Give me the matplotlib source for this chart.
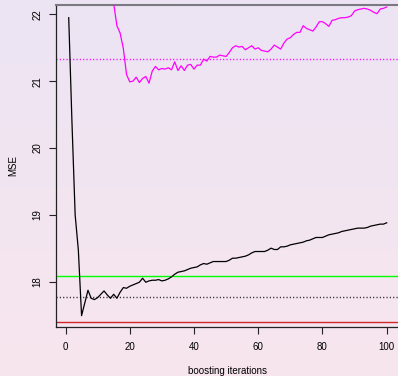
import numpy as np
import matplotlib
matplotlib.use("Agg")
import matplotlib.pyplot as plt
from matplotlib.colors import LinearSegmentedColormap

plt.rcParams['font.family'] = ['Liberation Sans', 'DejaVu Sans']

# Test-set MSE per boosting iteration
iter_black = list(range(1, 101))
mse_black = [
    21.95, 20.40, 19.00, 18.47, 17.49, 17.68, 17.87, 17.75, 17.73, 17.76,
    17.81, 17.86, 17.80, 17.75, 17.81, 17.75, 17.84, 17.91, 17.90, 17.93,
    17.95, 17.97, 17.99, 18.05, 17.99, 18.01, 18.02, 18.02, 18.03, 18.01,
    18.02, 18.04, 18.07, 18.11, 18.14, 18.15, 18.16, 18.18, 18.20, 18.21,
    18.22, 18.25, 18.27, 18.26, 18.28, 18.30, 18.30, 18.30, 18.30, 18.30,
    18.32, 18.35, 18.35, 18.36, 18.37, 18.38, 18.40, 18.43, 18.45, 18.45,
    18.45, 18.45, 18.47, 18.50, 18.48, 18.48, 18.52, 18.52, 18.53, 18.55,
    18.56, 18.57, 18.58, 18.59, 18.61, 18.62, 18.64, 18.66, 18.66, 18.66,
    18.68, 18.70, 18.71, 18.72, 18.73, 18.75, 18.76, 18.77, 18.78, 18.79,
    18.80, 18.80, 18.80, 18.81, 18.83, 18.84, 18.85, 18.86, 18.86, 18.88,
]

iter_magenta = list(range(14, 101))
mse_magenta = [
    22.50, 22.16, 21.83, 21.72, 21.49, 21.10, 20.99,
    21.00, 21.06, 20.98, 21.04, 21.07, 20.97, 21.15, 21.22, 21.17, 21.19,
    21.18, 21.20, 21.17, 21.29, 21.16, 21.23, 21.16, 21.24, 21.25, 21.18,
    21.24, 21.24, 21.33, 21.30, 21.37, 21.36, 21.36, 21.39, 21.38, 21.37,
    21.43, 21.50, 21.53, 21.51, 21.52, 21.47, 21.50, 21.53, 21.48, 21.50,
    21.46, 21.45, 21.44, 21.48, 21.54, 21.51, 21.48, 21.57, 21.63, 21.65,
    21.70, 21.73, 21.73, 21.83, 21.79, 21.77, 21.75, 21.81, 21.89, 21.89,
    21.86, 21.82, 21.91, 21.92, 21.94, 21.95, 21.95, 21.96, 21.98, 22.05,
    22.07, 22.08, 22.09, 22.08, 22.06, 22.03, 22.01, 22.08, 22.09, 22.11,
]

# Reference levels
ref_magenta_dotted = 21.33
ref_green = 18.08
ref_black_dotted = 17.775
ref_red = 17.40

x_ticks = [0, 20, 40, 60, 80, 100]
y_ticks = [18, 19, 20, 21, 22]

W, H = 398, 376
fig = plt.figure(figsize=(W / 100, H / 100), dpi=100)

# soft lavender-to-pink backdrop
bg = fig.add_axes([0, 0, 1, 1], zorder=-10)
grad = np.linspace(0, 1, 256).reshape(-1, 1)
cmap = LinearSegmentedColormap.from_list("bg", ["#ece4f4", "#f8e6ee"])
bg.imshow(grad, aspect="auto", cmap=cmap, extent=[0, 1, 0, 1], origin="upper")
bg.set_axis_off()

left, right, top, bottom = 56, 399.4, 5, 327
ax = fig.add_axes([left / W, 1 - bottom / H, (right - left) / W, (bottom - top) / H])
ax.set_facecolor("none")

ax.plot(iter_black, mse_black, color="black", lw=0.9, zorder=3)
ax.plot(iter_magenta, mse_magenta, color="#ff00ff", lw=0.9, zorder=3)
ax.axhline(ref_magenta_dotted, color="#ff00ff", lw=1.0, ls=(0, (0.8, 1.6)))
ax.axhline(ref_green, color="#00ff00", lw=1.0)
ax.axhline(ref_black_dotted, color="#222222", lw=1.0, ls=(0, (0.8, 1.6)))
ax.axhline(ref_red, color="#d02828", lw=1.0)

ax.set_xlim(-2.96, 103.96)
ax.set_ylim(17.32, 22.14)
ax.set_xticks(x_ticks)
ax.set_yticks(y_ticks)
ax.set_yticklabels([str(v) for v in y_ticks], rotation=90, va="center")

for s in ["left", "bottom"]:
    ax.spines[s].set_color("#222222")
    ax.spines[s].set_linewidth(0.9)
ax.spines["right"].set_visible(False)
ax.spines["top"].set_color("#7a7880")
ax.spines["top"].set_linewidth(1.5)

ax.tick_params(axis="x", length=5, width=0.8, pad=6, labelsize=7, color="#222222")
ax.tick_params(axis="y", length=5, width=0.8, pad=5, labelsize=7, color="#222222")

ax.set_xlabel("boosting iterations", fontsize=7, labelpad=10)
ax.set_ylabel("MSE", fontsize=7, labelpad=10)

fig.savefig("out.png", dpi=100)
